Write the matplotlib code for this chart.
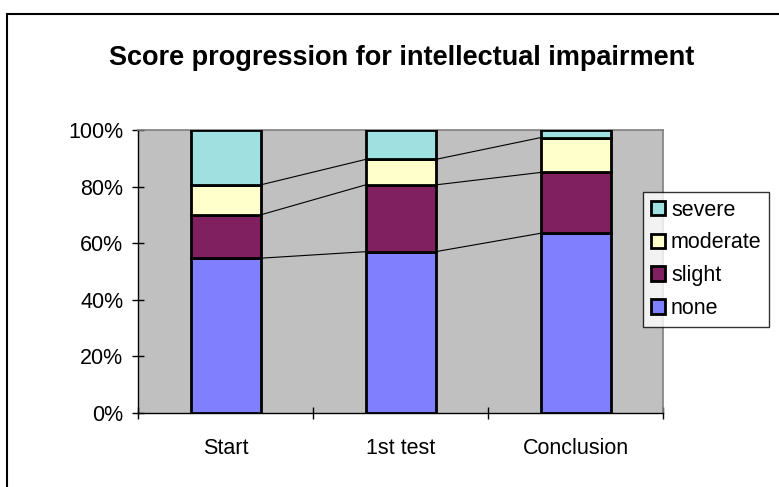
import matplotlib.pyplot as plt
from matplotlib.patches import Rectangle
import numpy as np

# Data (percent of patients per score level)
stages = ['Start', '1st test', 'Conclusion']
levels = ['none', 'slight', 'moderate', 'severe']
none = [54.7, 57.0, 63.5]
slight = [15.3, 23.6, 21.5]
moderate = [10.6, 9.0, 12.3]
severe = [19.4, 10.4, 2.7]
colors = ['#8080FF', '#802060', '#FFFFCC', '#A0E0E0']

plt.rcParams['font.family'] = ['Liberation Sans', 'DejaVu Sans']

fig = plt.figure(figsize=(7.79, 4.87), dpi=100)
W, H = 779, 487
ax = fig.add_axes([138 / W, (H - 413) / H, 525 / W, 283 / H])
ax.set_facecolor('#C0C0C0')

x = np.arange(len(stages))
bw = 0.4
series = [none, slight, moderate, severe]
bottom = np.zeros(len(stages))
tops = []
for vals, name, c in zip(series, levels, colors):
    vals = np.array(vals)
    ax.bar(x, vals, bw, bottom=bottom, color=c, edgecolor='black',
           linewidth=2, label=name, zorder=3)
    bottom = bottom + vals
    tops.append(bottom.copy())

# Excel-style series lines between bars
for t in tops[:-1]:
    for i in range(len(stages) - 1):
        ax.plot([x[i] + bw / 2, x[i + 1] - bw / 2], [t[i], t[i + 1]],
                color='black', linewidth=0.8, zorder=2)

ax.set_xlim(-0.5, 2.5)
ax.set_ylim(0, 100)
ax.set_yticks(range(0, 101, 20))
ax.set_yticklabels([f'{v}%' for v in range(0, 101, 20)])
ax.set_xticks([-0.5, 0.5, 1.5, 2.5])
ax.set_xticklabels([])
ax.set_xticks(x, minor=True)
ax.set_xticklabels(stages, minor=True)
ax.tick_params(axis='x', which='minor', length=0, pad=18, labelsize=15.5)
ax.tick_params(axis='x', which='major', direction='inout', length=9, width=1)
ax.tick_params(axis='y', direction='inout', length=9, width=1, pad=6, labelsize=15.5)

for s in ['top', 'right']:
    ax.spines[s].set_color('#808080')
    ax.spines[s].set_linewidth(1.2)
for s in ['left', 'bottom']:
    ax.spines[s].set_color('black')
    ax.spines[s].set_linewidth(1)

handles, labels = ax.get_legend_handles_labels()
leg = fig.legend(handles[::-1], labels[::-1], loc='upper left',
                 bbox_to_anchor=(643 / W, 1 - 192 / H), fontsize=15.5,
                 frameon=True, fancybox=False, shadow=False,
                 handlelength=0.65, handleheight=0.65, handletextpad=0.3,
                 labelspacing=0.55, borderpad=0.35, borderaxespad=0)
leg.get_frame().set_edgecolor('black')
leg.get_frame().set_linewidth(1)

fig.text(402 / W, 1 - 58 / H, 'Score progression for intellectual impairment',
         ha='center', va='center', fontsize=19.5, fontweight='bold')

# Outer chart frame
fig.patches.append(Rectangle((7 / W, -0.1), 1.2, 1 - 14 / H + 0.1,
                             transform=fig.transFigure, fill=False,
                             edgecolor='black', linewidth=1.5))

plt.savefig('out.png', dpi=100)
